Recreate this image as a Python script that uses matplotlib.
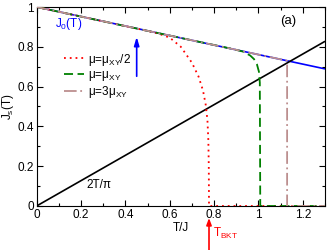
import numpy as np
import matplotlib
matplotlib.use("Agg")
import matplotlib.pyplot as plt
from matplotlib.ticker import MultipleLocator

plt.rcParams['font.family'] = ['Liberation Sans', 'DejaVu Sans']
plt.rcParams['mathtext.fontset'] = 'custom'
plt.rcParams['mathtext.rm'] = 'Liberation Sans'
plt.rcParams['mathtext.it'] = 'Liberation Sans:italic'

# J0(T) linear background
T_j0 = [0.0, 1.3]
J0 = [1.0, 0.689]

# 2T/pi line
T_lin = [0.0, 1.3]
J_lin = [0.0, 2 * 1.3 / np.pi]

# mu = mu_XY/2 (red dotted)
T_red = [0.0, 0.2, 0.4, 0.5, 0.55, 0.6, 0.65, 0.7, 0.73, 0.75, 0.762, 0.77, 0.774, 0.776, 0.777, 1.3]
J_red = [1.0, 0.952, 0.904, 0.880, 0.866, 0.846, 0.800, 0.720, 0.650, 0.580, 0.510, 0.430, 0.330, 0.200, 0.0, 0.0]

# mu = mu_XY (green dashed)
T_grn = [0.0, 0.4, 0.8, 0.88, 0.93, 0.963, 0.98, 0.993, 1.002, 1.006, 1.008, 1.3]
J_grn = [1.0, 0.904, 0.809, 0.790, 0.776, 0.756, 0.738, 0.712, 0.675, 0.620, 0.0, 0.0]

# mu = 3 mu_XY (rosy dash-dot)
T_brn = [0.0, 1.129, 1.129, 1.3]
J_brn = [1.0, 0.730, 0.0, 0.0]

xticks = [0, 0.2, 0.4, 0.6, 0.8, 1, 1.2]
xticklabels = ['0', '0.2', '0.4', '0.6', '0.8', '1', '1.2']
yticks = [0, 0.2, 0.4, 0.6, 0.8, 1]
yticklabels = ['0', '0.2', '0.4', '0.6', '0.8', '1']

T_BKT = 0.777
arrow_T = 0.451

fig = plt.figure(figsize=(3.27, 2.5), dpi=100)
ax = fig.add_axes([0.112, 0.176, 0.882, 0.796])

ax.plot(T_j0, J0, color='#0000ff', lw=1.2, zorder=1, solid_capstyle='butt')
ax.plot(T_lin, J_lin, color='black', lw=1.2, zorder=2, solid_capstyle='butt')
l1, = ax.plot(T_red, J_red, color='#ff0000', lw=1.3, ls=(0, (1, 2.2)), zorder=3, label=r'μ=μ$_{\mathrm{XY}}$/2')
l2, = ax.plot(T_grn, J_grn, color='#008000', lw=1.3, ls=(0, (5, 2.5)), zorder=4, label=r'μ=μ$_{\mathrm{XY}}$')
l3, = ax.plot(T_brn, J_brn, color='#bc8f8f', lw=1.3, ls=(0, (7, 2, 1, 2)), zorder=5, label=r'μ=3μ$_{\mathrm{XY}}$')

ax.set_xlim(0, 1.3)
ax.set_ylim(0, 1.0)
ax.set_xticks(xticks)
ax.set_xticklabels(xticklabels)
ax.set_yticks(yticks)
ax.set_yticklabels(yticklabels)
ax.xaxis.set_minor_locator(MultipleLocator(0.1))
ax.yaxis.set_minor_locator(MultipleLocator(0.1))
ax.tick_params(which='both', direction='in', top=True, right=True, labelsize=8.5, pad=2)
ax.tick_params(which='major', length=4, width=0.8)
ax.tick_params(which='minor', length=2, width=0.8)
for s in ax.spines.values():
    s.set_linewidth(0.8)

ax.set_xlabel('T/J', fontsize=8.5, labelpad=1)
ax.set_ylabel(r'J$_{\mathrm{s}}$(T)', fontsize=8.5, labelpad=1)

leg = ax.legend(handles=[l1, l2, l3], loc='upper left', bbox_to_anchor=(0.08, 0.8),
                frameon=False, fontsize=8.5, handlelength=1.7, handletextpad=0.3,
                labelspacing=0.1, borderaxespad=0)

ax.text(0.083, 0.916, r'J$_{0}$(T)', color='#0000ff', fontsize=8.5, va='center', ha='left')
ax.text(1.135, 0.93, '(a)', fontsize=9.5, va='center', ha='center')
ax.text(0.226, 0.106, '2T/π', fontsize=8.5, va='center', ha='left')

ax.annotate('', xy=(arrow_T, 0.85), xytext=(arrow_T, 0.652),
            arrowprops=dict(arrowstyle='-|>,head_width=0.15,head_length=0.5',
                            color='#0000ff', lw=1.2, mutation_scale=10, shrinkA=0, shrinkB=0))
ax.annotate('', xy=(T_BKT, -0.06), xytext=(T_BKT, -0.225),
            arrowprops=dict(arrowstyle='-|>,head_width=0.15,head_length=0.4',
                            color='#ff0000', lw=1.2, mutation_scale=10, shrinkA=0, shrinkB=0),
            annotation_clip=False)
ax.text(0.795, -0.14, r'T$_{\mathrm{BKT}}$', color='#ff0000', fontsize=8.5, va='center', ha='left',
        clip_on=False)

fig.savefig('out.png', dpi=100)
